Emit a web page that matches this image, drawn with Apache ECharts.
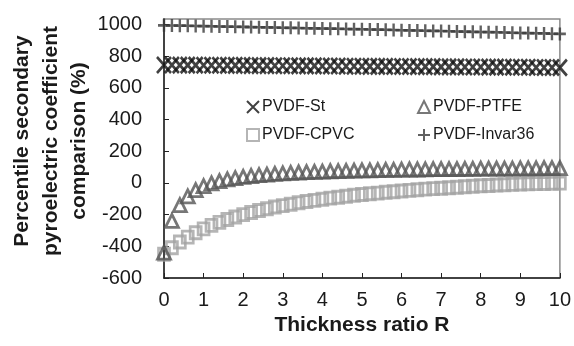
<!DOCTYPE html>
<html>
<head>
<meta charset="utf-8">
<script src="https://cdn.jsdelivr.net/npm/echarts@6/dist/echarts.min.js"></script>
<style>html,body{margin:0;padding:0;background:#fff;}#c{width:574px;height:346px;}</style>
</head>
<body>
<div id="c"></div>
<script>
var ratioR = [0,0.2,0.4,0.6,0.8,1,1.2,1.4,1.6,1.8,2,2.2,2.4,2.6,2.8,3,3.2,3.4,3.6,3.8,4,4.2,4.4,4.6,4.8,5,5.2,5.4,5.6,5.8,6,6.2,6.4,6.6,6.8,7,7.2,7.4,7.6,7.8,8,8.2,8.4,8.6,8.8,9,9.2,9.4,9.6,9.8,10];
var pvdfSt = [745,745,744,744,744,743,743,743,742,742,742,741,741,741,740,740,740,739,739,739,738,738,738,737,737,737,736,736,736,735,735,735,734,734,734,733,733,733,732,732,732,731,731,731,730,730,730,729,729,729,728];
var pvdfPtfe = [-440,-240,-140,-85,-45,-20,-2,12,22,31,38,44,49,53,57,60,63,66,68,70,72,74,75,77,78,79,80,81,82,83,84,85,85,86,87,87,88,88,89,89,90,90,91,91,91,92,92,92,93,93,93];
var pvdfCpvc = [-450,-409,-373,-342,-314,-290,-268,-249,-231,-215,-200,-187,-174,-163,-152,-143,-134,-125,-117,-110,-103,-96,-90,-84,-78,-73,-68,-64,-59,-55,-51,-47,-43,-39,-36,-33,-30,-27,-24,-21,-18,-16,-13,-11,-9,-7,-5,-4,-3,-2,-1];
var pvdfInvar = [995,994,993,992,991,990,989,988,987,986,985,984,983,982,981,980,979,978,977,976,975,974,973,972,971,970,969,968,967,966,964,963,962,961,960,959,958,956,955,954,953,952,951,950,948,947,946,945,944,942,941];
var yTicks = [-600,-400,-200,0,200,400,600,800,1000];
var xTicks = [0,1,2,3,4,5,6,7,8,9,10];
var seriesNames = ['PVDF-St','PVDF-PTFE','PVDF-CPVC','PVDF-Invar36'];

function pairs(vals){ return vals.map(function(v,i){ return [ratioR[i], v]; }); }
var FONT = '"Liberation Sans", Arial, sans-serif';
function plain(v){ return String(v); }

var chart = echarts.init(document.getElementById('c'), null, {renderer:'canvas'});
chart.setOption({
  animation: false,
  backgroundColor: '#ffffff',
  grid: {left:164, right:12, top:19, bottom:68, show:true, borderColor:'#8a8a8a', borderWidth:1.5, backgroundColor:'transparent'},
  xAxis: {
    type:'value', min:0, max:10, interval:1,
    name:'Thickness ratio R', nameLocation:'middle', nameGap:31,
    nameTextStyle:{fontFamily:FONT, fontSize:21, fontWeight:'bold', color:'#1a1a1a'},
    axisLine:{show:true, onZero:false, lineStyle:{color:'#222', width:1.5}},
    axisTick:{show:true, inside:true, length:5, lineStyle:{color:'#222', width:1}, customValues:xTicks},
    axisLabel:{fontFamily:FONT, fontSize:20, color:'#1a1a1a', margin:12, customValues:xTicks, formatter:plain},
    splitLine:{show:false}
  },
  yAxis: {
    type:'value', min:-600, max:1035, interval:200,
    axisLine:{show:true, onZero:false, lineStyle:{color:'#222', width:1.5}},
    axisTick:{show:true, inside:true, length:5, lineStyle:{color:'#222', width:1}, customValues:yTicks},
    axisLabel:{fontFamily:FONT, fontSize:20, color:'#1a1a1a', margin:22, customValues:yTicks, formatter:plain},
    splitLine:{show:false}
  },
  graphic: [{
    type:'text', x:51, y:141, rotation:Math.PI/2,
    style:{text:'Percentile secondary\npyroelectric coefficient\ncomparison (%)', font:'bold 21px ' + FONT, fill:'#1a1a1a', align:'center', verticalAlign:'middle', lineHeight:28.5}
  }],
  legend: [
    {data:[seriesNames[0], seriesNames[2]], orient:'vertical', left:246, top:99, itemGap:12, itemWidth:12, itemHeight:12, padding:0,
     textStyle:{fontFamily:FONT, fontSize:16, color:'#1a1a1a', padding:[0,0,0,-2]}},
    {data:[seriesNames[1], seriesNames[3]], orient:'vertical', left:417, top:99, itemGap:12, itemWidth:12, itemHeight:12, padding:0,
     textStyle:{fontFamily:FONT, fontSize:16, color:'#1a1a1a', padding:[0,0,0,-2]}}
  ],
  series: [
    {name:seriesNames[3], type:'scatter', data:pairs(pvdfInvar), symbol:'path://M5,0L5,10M0,5L10,5', symbolSize:[12,13],
     itemStyle:{color:'rgba(0,0,0,0)', borderColor:'#3a3a3a', borderWidth:2.5}},
    {name:seriesNames[0], type:'scatter', data:pairs(pvdfSt), symbol:'path://M0,0L10,10M10,0L0,10', symbolSize:[14,16],
     itemStyle:{color:'rgba(0,0,0,0)', borderColor:'#111111', borderWidth:2.8}},
    {name:seriesNames[2], type:'scatter', data:pairs(pvdfCpvc), symbol:'path://M0,0L10,0L10,10L0,10Z', symbolSize:[11,12],
     itemStyle:{color:'rgba(0,0,0,0)', borderColor:'#a2a2a2', borderWidth:2.8}},
    {name:seriesNames[1], type:'scatter', data:pairs(pvdfPtfe), symbol:'path://M5,0L10,10L0,10Z', symbolSize:[13,13],
     itemStyle:{color:'rgba(0,0,0,0)', borderColor:'#555555', borderWidth:2.8}}
  ]
});
</script>
</body>
</html>
